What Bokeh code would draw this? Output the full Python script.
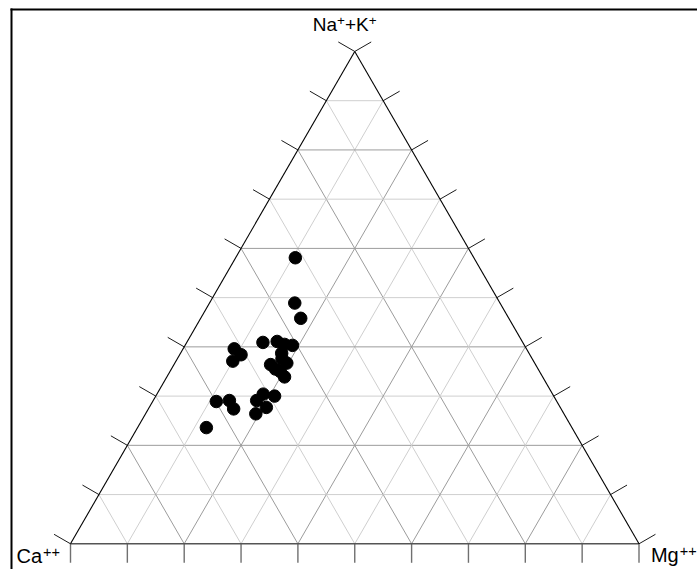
import numpy as np
from bokeh.plotting import figure
from bokeh.models import Range1d, ColumnDataSource
from bokeh.core.properties import value
from bokeh.embed import file_html
from bokeh.resources import INLINE

# Sample compositions in percent (Ca++, Mg++, Na+ + K+)
ca = [31.4, 36.1, 36.6, 45.7, 43.1, 42.1, 40.8, 51.4, 50.8, 52.9, 43.5, 43.6, 46.6,
      46.2, 45.6, 45.4, 50.9, 49.1, 52.7, 51.7, 54.2, 59.9, 57.5, 57.6, 64.3, 44.0]
mg = [10.5, 15.0, 17.6, 13.4, 15.8, 17.4, 18.9, 9.0, 10.8, 10.0, 17.8, 19.7, 17.0,
      18.3, 19.4, 20.7, 18.7, 20.9, 18.2, 20.6, 19.4, 11.2, 13.4, 15.0, 12.1, 18.4]
na_k = [58.1, 48.9, 45.8, 40.9, 41.1, 40.5, 40.3, 39.6, 38.4, 37.1, 38.7, 36.7, 36.4,
        35.5, 35.0, 33.9, 30.4, 30.0, 29.1, 27.7, 26.4, 28.9, 29.1, 27.4, 23.6, 37.6]

# vertex label pieces: (vertex index, text, is_superscript)
label_parts = [(0, "Ca", False), (0, "++", True),
               (1, "Mg", False), (1, "++", True),
               (2, "Na", False), (2, "+", True), (2, "+K", False), (2, "+", True)]
grid_steps = [10, 20, 30, 40, 50, 60, 70, 80, 90]
tick_steps = [0, 10, 20, 30, 40, 50, 60, 70, 80, 90, 100]

H = np.sqrt(3) / 2


def to_xy(c, m, n):
    c = np.asarray(c, float); m = np.asarray(m, float); n = np.asarray(n, float)
    tot = c + m + n
    return (m + 0.5 * n) / tot, H * n / tot


W, HT = 697, 569
S = 568.5  # px per unit
x0 = -70 / S
x1 = x0 + W / S
y1 = 543.3 / S
y0 = y1 - HT / S


def dx(px):
    return x0 + px / S


def dy(py):
    return y1 - py / S


p = figure(width=W, height=HT, output_backend="svg", toolbar_location=None,
           x_range=Range1d(x0, x1), y_range=Range1d(y0, y1),
           x_axis_type=None, y_axis_type=None, min_border=0,
           outline_line_color=None, background_fill_color="white",
           border_fill_color="white")
p.grid.visible = False

# grid lines
light, dark = "#cfcfcf", "#9c9c9c"
for v in grid_steps:
    col = dark if v % 20 == 0 else light
    segs = [((100 - v, 0, v), (0, 100 - v, v)),     # constant Na+K
            ((100 - v, v, 0), (0, v, 100 - v)),     # constant Mg
            ((v, 100 - v, 0), (v, 0, 100 - v))]     # constant Ca
    for a, b in segs:
        xa, ya = to_xy(*a); xb, yb = to_xy(*b)
        p.segment(x0=[xa], y0=[ya], x1=[xb], y1=[yb], line_color=col, line_width=1)

# ticks
TL = 19 / S
t = np.array(tick_steps, float)
bx, by = to_xy(100 - t, t, 0 * t)
p.segment(x0=bx, y0=by, x1=bx, y1=by - TL, line_color="#707070", line_width=1.4)
lx, ly = to_xy(100 - t, 0 * t, t)
p.segment(x0=lx, y0=ly, x1=lx - TL * H, y1=ly + TL * 0.5, line_color="#1a1a1a", line_width=1)
rx, ry = to_xy(0 * t, 100 - t, t)
p.segment(x0=rx, y0=ry, x1=rx + TL * H, y1=ry + TL * 0.5, line_color="#1a1a1a", line_width=1)

# triangle edges
vx, vy = to_xy([100, 0, 0], [0, 100, 0], [0, 0, 100])
p.segment(x0=[vx[0]], y0=[vy[0]], x1=[vx[1]], y1=[vy[1]], line_color="#555555", line_width=1.4)
p.segment(x0=[vx[0], vx[1]], y0=[vy[0], vy[1]], x1=[vx[2], vx[2]], y1=[vy[2], vy[2]],
          line_color="black", line_width=1.1)

# data points
px, py = to_xy(ca, mg, na_k)
p.scatter(px, py, size=12.5, color="black")

# vertex labels (pieces, superscripts smaller and raised); offsets in screen px
offsets = [(-54, 11.7), (-27.5, 7.7),
           (11.9, 11.2), (40.7, 7.2),
           (-42, -27.2), (-17.7, -31.2), (-9.8, -27.2), (14, -31.2)]
sizes = ["20px", "14.5px", "20px", "14.5px", "19px", "13.5px", "19px", "13.5px"]
lab = ColumnDataSource(dict(
    x=[vx[i] for i, _, _ in label_parts], y=[vy[i] for i, _, _ in label_parts],
    text=[s for _, s, _ in label_parts], size=sizes,
    xo=[o[0] for o in offsets], yo=[o[1] for o in offsets]))
p.text(x="x", y="y", text="text", source=lab, text_align="left",
       x_offset="xo", y_offset="yo", text_baseline="alphabetic",
       text_font=value("Liberation Sans"), text_font_size="size", text_color="black")

# frame (top and left edges visible)
p.segment(x0=[dx(10), dx(11)], y0=[dy(9), dy(8)], x1=[dx(W), dx(11)], y1=[dy(9), dy(HT)],
          line_color="black", line_width=2)

open("out.html", "w").write(file_html(p, INLINE))
